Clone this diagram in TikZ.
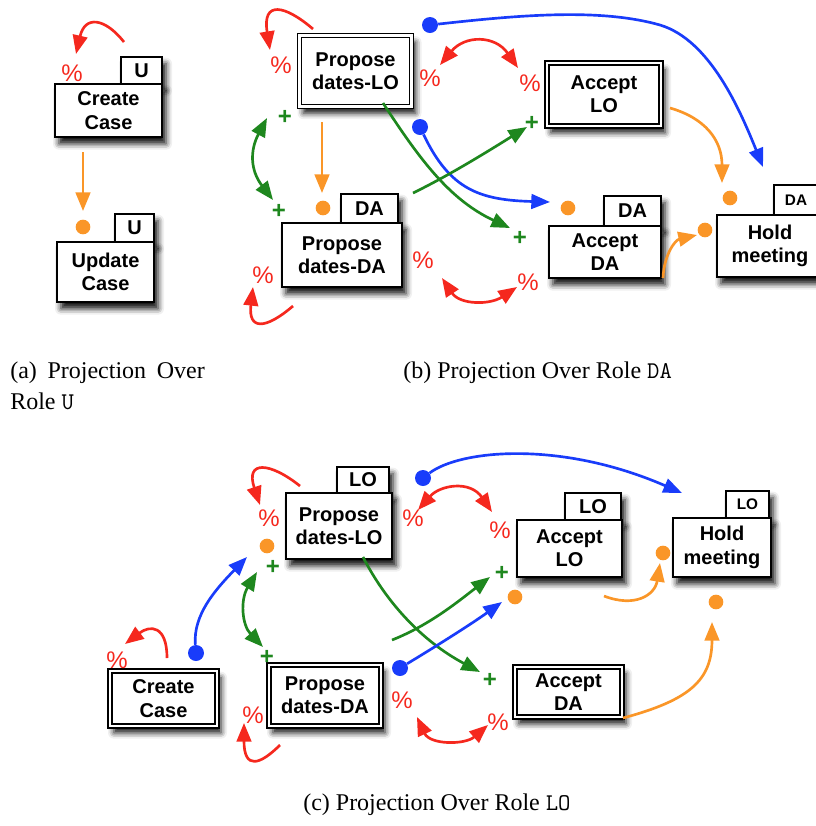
\documentclass[tikz,border=0pt]{standalone}
\usepackage{fontspec}
\setmainfont{Liberation Serif}
\setsansfont{Liberation Sans}
\usetikzlibrary{arrows.meta,shadows.blur}
\definecolor{cred}{RGB}{245,40,30}
\definecolor{corange}{RGB}{250,150,40}
\definecolor{cgreen}{RGB}{30,135,30}
\definecolor{cblue}{RGB}{25,60,250}
\tikzset{
  actbox/.style={draw, line width=1.2pt, fill=white, inner sep=0pt, align=center,
    font=\sffamily\bfseries\fontsize{15}{17.5}\selectfont,
    blur shadow={shadow xshift=3pt, shadow yshift=-5pt, shadow blur radius=4.5pt, shadow opacity=95}},
  actdbox/.style={actbox, double=white, double distance=1.8pt, line width=1pt},
  tabbox/.style={actbox},
  smalltab/.style={actbox, font=\sffamily\bfseries\fontsize{11.5}{13}\selectfont},
  pct/.style={text=cred, font=\sffamily\fontsize{18}{18}\selectfont, inner sep=0pt},
  pls/.style={text=cgreen, font=\sffamily\bfseries\fontsize{18}{18}\selectfont, inner sep=0pt},
  odot/.style={circle, fill=corange, inner sep=0pt, minimum size=11pt},
  bdot/.style={circle, fill=cblue, inner sep=0pt, minimum size=12pt},
  tipa/.tip={Triangle[length=14pt,width=11pt]},
  rarr/.style={draw=cred, line width=2pt, -tipa},
  rdarr/.style={draw=cred, line width=2pt, tipa-tipa},
  garr/.style={draw=cgreen, line width=2pt, -tipa},
  gdarr/.style={draw=cgreen, line width=2pt, tipa-tipa},
  oarr/.style={draw=corange, line width=2pt, -tipa},
  barr/.style={draw=cblue, line width=2pt, -tipa},
  captext/.style={inner sep=0pt, anchor=west, font=\fontsize{18}{22}\selectfont}
}
\begin{document}
\begin{tikzpicture}[x=0.75pt,y=-0.75pt]
\useasboundingbox (0,0) rectangle (816,826);
\clip (0,0) rectangle (816,826);

% ================= panel (a)
\node[tabbox, minimum width=30.75pt, minimum height=20.25pt] (A1t) at (141.5,70.5) {U};
\node[actbox, minimum width=80.25pt, minimum height=39.75pt] (A1) at (108.5,110.5) {Create\\Case};
\node[tabbox, minimum width=29.25pt, minimum height=21pt] (A2t) at (134.5,228) {U};
\node[actbox, minimum width=72.75pt, minimum height=45pt] (A2) at (105.5,272) {Update\\Case};
\node[pct] (Ap1) at (72,73) {\%};
\coordinate (a1s) at (124,42); \coordinate (a1e) at (76,54);
\draw[rarr] (a1s) .. controls (105,18) and (85,15) .. (a1e);
\node[odot] (Ad1) at (83,227) {};
\coordinate (a2s) at (83,152); \coordinate (a2e) at (83,211);
\draw[oarr] (a2s) -- (a2e);

% ================= panel (b)
\node[actdbox, minimum width=84pt, minimum height=53.25pt] (B1) at (355.5,71) {Propose\\dates-LO};
\node[tabbox, minimum width=42.75pt, minimum height=21.75pt] (B2t) at (369.5,208.5) {DA};
\node[actbox, minimum width=90pt, minimum height=48pt] (B2) at (342,255) {Propose\\dates-DA};
\node[actdbox, minimum width=85.5pt, minimum height=47.25pt] (B3) at (604,94.5) {Accept\\LO};
\node[tabbox, minimum width=42.75pt, minimum height=22.5pt] (B4t) at (632.5,211) {DA};
\node[actbox, minimum width=84pt, minimum height=39pt] (B4) at (605,252) {Accept\\DA};
\node[smalltab, minimum width=33pt, minimum height=22.5pt] (B5t) at (796,200) {DA};
\node[actbox, minimum width=79.5pt, minimum height=46.5pt] (B5) at (770,246) {Hold\\meeting};

\node[pct] (Bp1) at (281,65) {\%};
\node[pls] (Bg1) at (285,117) {+};
\node[pls] (Bg2) at (279,211) {+};
\node[pct] (Bp2) at (263,275) {\%};
\node[pct] (Bp3) at (430,78) {\%};
\node[pct] (Bp4) at (530,83) {\%};
\node[pls] (Bg3) at (532,123) {+};
\node[pct] (Bp5) at (423,260) {\%};
\node[pls] (Bg4) at (520,238) {+};
\node[pct] (Bp6) at (528,282) {\%};
\node[odot] (Bo1) at (323,208) {};
\node[odot] (Bo2) at (568,208) {};
\node[odot] (Bo3) at (730,198) {};
\node[odot] (Bo4) at (705,230) {};
\node[bdot] (Bb1) at (430,25) {};
\node[bdot] (Bb2) at (420,127) {};

\coordinate (b1s) at (313,29); \coordinate (b1e) at (270,50);
\draw[rarr] (b1s) .. controls (285,5) and (262,0) .. (b1e);
\coordinate (b2s) at (267,118); \coordinate (b2e) at (273,200);
\draw[gdarr] (b2s) .. controls (250,150) and (250,170) .. (b2e);
\coordinate (b3s) at (322,122); \coordinate (b3e) at (322,193);
\draw[oarr] (b3s) -- (b3e);
\coordinate (b4s) at (293,306); \coordinate (b4e) at (253,287);
\draw[rarr] (b4s) .. controls (265,330) and (248,330) .. (b4e);
\coordinate (b5s) at (440,65); \coordinate (b5e) at (518,68);
\draw[rdarr] (b5s) .. controls (465,35) and (495,35) .. (b5e);
\coordinate (b6m) at (660,25); \coordinate (b6e) at (763,167);
\draw[barr] (Bb1) .. controls (520,15) and (600,8) .. (b6m) .. controls (710,40) and (740,110) .. (b6e);
\coordinate (b7e) at (550,202);
\draw[barr] (Bb2) .. controls (450,190) and (480,200) .. (b7e);
\coordinate (b8s) at (383,103); \coordinate (b8e) at (510,228);
\draw[garr] (b8s) .. controls (420,160) and (450,200) .. (b8e);
\coordinate (b9s) at (413,193); \coordinate (b9e) at (527,127);
\draw[garr] (b9s) .. controls (450,175) and (490,150) .. (b9e);
\coordinate (b10s) at (442,278); \coordinate (b10e) at (517,287);
\draw[rdarr] (b10s) .. controls (460,305) and (490,305) .. (b10e);
\coordinate (b11s) at (670,108); \coordinate (b11e) at (722,183);
\draw[oarr] (b11s) .. controls (705,118) and (722,140) .. (b11e);
\coordinate (b12s) at (663,278); \coordinate (b12e) at (697,235);
\draw[oarr] (b12s) .. controls (664,255) and (675,240) .. (b12e);

% ================= panel (c)
\node[tabbox, minimum width=39pt, minimum height=19.5pt] (C1t) at (363,480) {LO};
\node[actbox, minimum width=79.5pt, minimum height=49.5pt] (C1) at (339,526) {Propose\\dates-LO};
\node[actdbox, minimum width=80.25pt, minimum height=41.25pt] (C2) at (163.5,698.5) {Create\\Case};
\node[actdbox, minimum width=84pt, minimum height=45.75pt] (C3) at (325,695.5) {Propose\\dates-DA};
\node[tabbox, minimum width=42pt, minimum height=20.25pt] (C4t) at (593,506.5) {LO};
\node[actbox, minimum width=78.75pt, minimum height=42.75pt] (C4) at (569.5,548.5) {Accept\\LO};
\node[actdbox, minimum width=80.25pt, minimum height=37.5pt] (C5) at (568.5,692) {Accept\\DA};
\node[smalltab, minimum width=32.25pt, minimum height=20.25pt] (C6t) at (747.5,504.5) {LO};
\node[actbox, minimum width=73.5pt, minimum height=44.25pt] (C6) at (722,547.5) {Hold\\meeting};

\node[pct] (Cp1) at (269,518) {\%};
\node[pls] (Cg1) at (273,567) {+};
\node[pls] (Cg2) at (267,657) {+};
\node[pct] (Cp2) at (117,660) {\%};
\node[pct] (Cp3) at (253,715) {\%};
\node[pct] (Cp4) at (402,700) {\%};
\node[pct] (Cp5) at (413,518) {\%};
\node[pct] (Cp6) at (500,530) {\%};
\node[pls] (Cg3) at (502,573) {+};
\node[pls] (Cg4) at (490,680) {+};
\node[pct] (Cp7) at (498,722) {\%};
\node[odot] (Co1) at (267,546) {};
\node[odot] (Co2) at (515,597) {};
\node[odot] (Co3) at (663,553) {};
\node[odot] (Co4) at (716,602) {};
\node[bdot] (Cb1) at (196,653) {};
\node[bdot] (Cb2) at (400,668) {};
\node[bdot] (Cb3) at (423,478) {};

\coordinate (c1s) at (300,486); \coordinate (c1e) at (260,505);
\draw[rarr] (c1s) .. controls (270,462) and (245,460) .. (c1e);
\coordinate (c2e) at (247,557);
\draw[barr] (Cb1) .. controls (193,615) and (215,590) .. (c2e);
\coordinate (c3s) at (257,572); \coordinate (c3e) at (263,647);
\draw[gdarr] (c3s) .. controls (240,600) and (242,625) .. (c3e);
\coordinate (c4s) at (167,658); \coordinate (c4e) at (125,644);
\draw[rarr] (c4s) .. controls (167,625) and (150,625) .. (c4e);
\coordinate (c5s) at (280,745); \coordinate (c5e) at (244,723);
\draw[rarr] (c5s) .. controls (260,765) and (244,770) .. (c5e);
\coordinate (c6s) at (363,557); \coordinate (c6e) at (480,672);
\draw[garr] (c6s) .. controls (385,600) and (420,640) .. (c6e);
\coordinate (c7s) at (392,640); \coordinate (c7e) at (490,577);
\draw[garr] (c7s) .. controls (430,625) and (460,600) .. (c7e);
\coordinate (c8e) at (502,602);
\draw[barr] (Cb2) .. controls (430,650) and (470,625) .. (c8e);
\coordinate (c9e) at (682,493);
\draw[barr] (Cb3) .. controls (460,450) and (560,440) .. (c9e);
\coordinate (c10s) at (418,510); \coordinate (c10e) at (492,512);
\draw[rdarr] (c10s) .. controls (440,485) and (470,480) .. (c10e);
\coordinate (c11s) at (417,717); \coordinate (c11e) at (488,725);
\draw[rdarr] (c11s) .. controls (430,745) and (465,745) .. (c11e);
\coordinate (c12s) at (604,596); \coordinate (c12e) at (660,563);
\draw[oarr] (c12s) .. controls (635,608) and (655,595) .. (c12e);
\coordinate (c13s) at (623,718); \coordinate (c13e) at (712,622);
\draw[oarr] (c13s) .. controls (690,700) and (712,680) .. (c13e);

% ================= captions
\node[captext] (capA1) at (10,373) {(a)\hspace{8pt}Projection\hspace{8pt}Over};
\node[captext] (capA2) at (10,401) {Role \texttt{U}};
\node[captext] (capB) at (403,373) {(b) Projection Over Role \texttt{DA}};
\node[captext] (capC) at (303,805) {(c) Projection Over Role \texttt{LO}};
\end{tikzpicture}
\end{document}
